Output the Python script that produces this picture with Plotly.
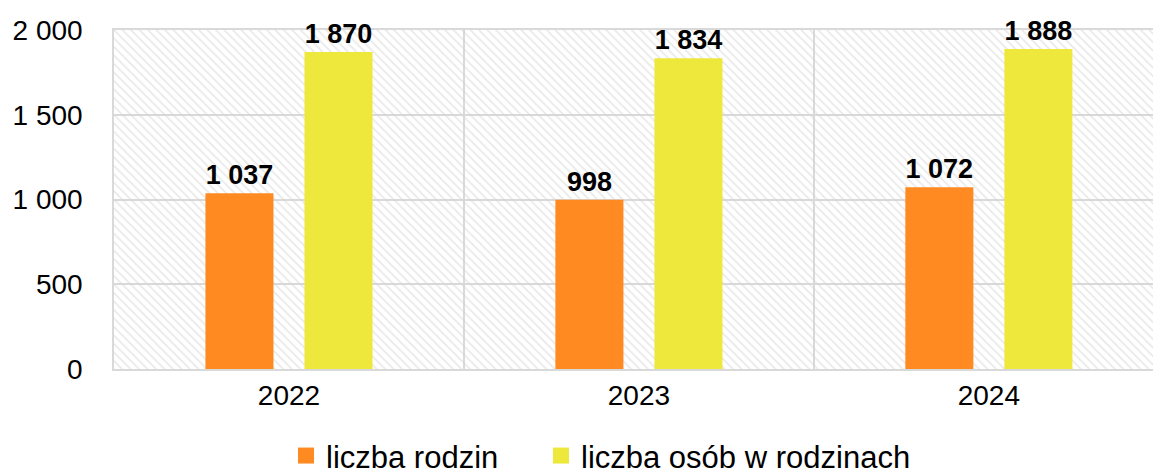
import plotly.graph_objects as go

years = ["2022", "2023", "2024"]
rodziny = [1037, 998, 1072]
osoby = [1870, 1834, 1888]
names = ["liczba rodzin", "liczba osób w rodzinach"]
colors = ["#FF8A22", "#EEE83D"]
y_ticks = [0, 500, 1000, 1500, 2000]

FONT = "Liberation Sans"

fig = go.Figure()

# hatched plot background
fig.add_trace(go.Bar(
    x=[years[1]], y=[y_ticks[-1]], width=[3], offset=-1.5,
    marker=dict(color="rgba(0,0,0,0)", line=dict(width=0),
                pattern=dict(shape="\\", fgcolor="#d4d4d4", bgcolor="rgba(0,0,0,0)",
                             size=6, solidity=0.3)),
    showlegend=False, hoverinfo="skip",
))

for vals, name, col in zip([rodziny, osoby], names, colors):
    fig.add_trace(go.Bar(
        x=years, y=vals, name=name, marker=dict(color=col, line=dict(width=0)),
        texttemplate="%{y:,}", textposition="outside", cliponaxis=False,
        textfont=dict(family=FONT, size=27, color="black", weight="bold"),
        showlegend=False,
    ))

# legend entries with larger square symbols, one legend box each
for name, col, lg in zip(names, colors, ["legend", "legend2"]):
    fig.add_trace(go.Scatter(
        x=[None], y=[None], mode="markers", name=name, legend=lg,
        marker=dict(symbol="square", size=17, color=col),
    ))

leg_common = dict(orientation="h", xref="container", yref="container",
                  xanchor="left", y=0.03, yanchor="middle",
                  font=dict(size=31), itemwidth=30, bgcolor="rgba(0,0,0,0)")

fig.update_layout(
    width=1153, height=470,
    margin=dict(l=114, r=0, t=30, b=101, autoexpand=False),
    paper_bgcolor="white", plot_bgcolor="white",
    separators=", ",
    barmode="group", bargap=0.434, bargroupgap=0.313,
    font=dict(family=FONT, size=28, color="black"),
    showlegend=True,
    legend=dict(x=286 / 1153, **leg_common),
    legend2=dict(x=541 / 1153, **leg_common),
)
fig.update_xaxes(
    type="category", categoryorder="array", categoryarray=years,
    range=[-0.5, 2.469], tickson="boundaries",
    showgrid=True, gridcolor="#d9d9d9", gridwidth=1.5,
    showline=True, linecolor="#d9d9d9", linewidth=2, mirror=True,
    ticks="outside", ticklen=43, tickcolor="rgba(0,0,0,0)",
    tickfont=dict(size=28), layer="below traces",
)
fig.update_yaxes(
    range=[0, 2000], tickvals=y_ticks, tickformat=",",
    showgrid=True, gridcolor="#d9d9d9", gridwidth=1.5,
    showline=True, linecolor="#d9d9d9", linewidth=1.5, mirror=True,
    zeroline=False, ticklabelstandoff=24, tickfont=dict(size=28),
    layer="below traces",
)

fig.write_html("out.html", config={"displayModeBar": False},
               post_script="document.body.style.margin='0px';")
